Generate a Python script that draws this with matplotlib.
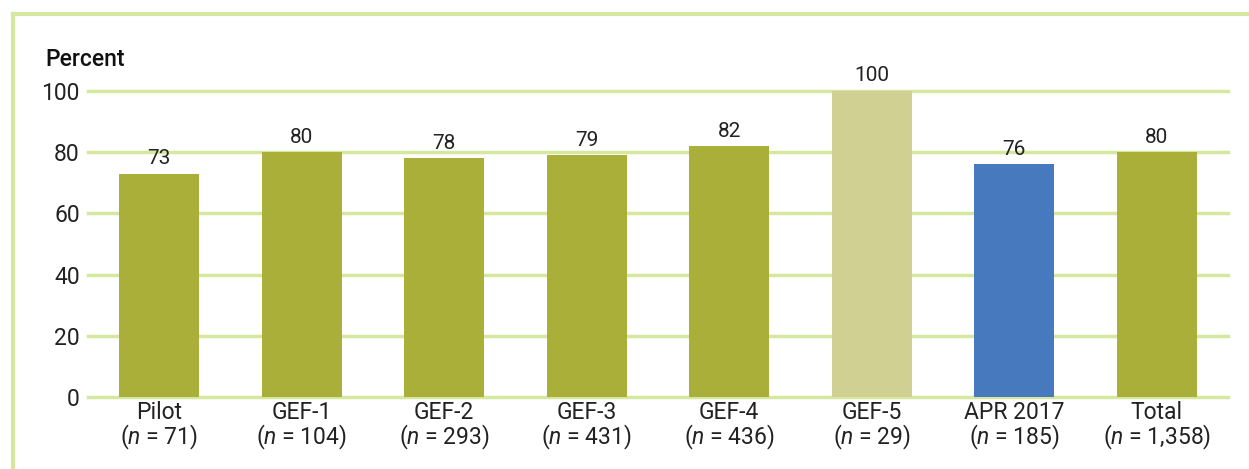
import matplotlib
matplotlib.use("Agg")
import matplotlib.pyplot as plt
from matplotlib.lines import Line2D

categories = ["Pilot", "GEF-1", "GEF-2", "GEF-3", "GEF-4", "GEF-5", "APR 2017", "Total"]
n_values = ["71", "104", "293", "431", "436", "29", "185", "1,358"]
percent = [73, 80, 78, 79, 82, 100, 76, 80]
colors = ["#A9AF38", "#A9AF38", "#A9AF38", "#A9AF38", "#A9AF38", "#D0D092", "#4679BE", "#A9AF38"]

plt.rcParams["font.family"] = ["Roboto", "DejaVu Sans"]
plt.rcParams["mathtext.fontset"] = "custom"
plt.rcParams["mathtext.it"] = "Roboto:italic"
plt.rcParams["mathtext.rm"] = "Roboto"

grid_color = "#D6E79F"
txt = "#222222"

fig = plt.figure(figsize=(12.49, 4.69), dpi=100)
ax = fig.add_axes([88 / 1249, 1 - 397 / 469, (1228 - 88) / 1249, (397 - 91) / 469])

x = list(range(len(categories)))
ax.bar(x, percent, width=0.56, color=colors, zorder=3)
for xi, v in zip(x, percent):
    ax.text(xi, v + 1.8, str(v), ha="center", va="bottom", fontsize=15, color=txt, clip_on=False)

labels = [c + "\n($n$ = " + n + ")" for c, n in zip(categories, n_values)]
ax.set_xticks(x)
ax.set_xticklabels(labels, fontsize=16.5, color=txt, linespacing=0.95)
ax.set_xlim(-0.5, len(categories) - 0.5)
ax.set_ylim(0, 100)
ax.set_yticks([0, 20, 40, 60, 80, 100])
ax.tick_params(axis="both", length=0, labelsize=16.5, colors=txt)
ax.tick_params(axis="y", pad=6)
ax.tick_params(axis="x", pad=3)

for y in [0, 20, 40, 60, 80, 100]:
    ax.axhline(y, color=grid_color, lw=2.5, zorder=1, clip_on=False)
for s in ax.spines.values():
    s.set_visible(False)

fig.text(45 / 1249, 1 - 60 / 469, "Percent", fontsize=16.5, fontweight="medium", va="center", ha="left", color="#111111")

# frame around the figure (top and left)
fig.add_artist(Line2D([13 / 1249, 1], [1 - 14 / 469, 1 - 14 / 469], color=grid_color, lw=3))
fig.add_artist(Line2D([13 / 1249, 13 / 1249], [0, 1 - 14 / 469], color=grid_color, lw=3))

fig.savefig("out.png", dpi=100)
